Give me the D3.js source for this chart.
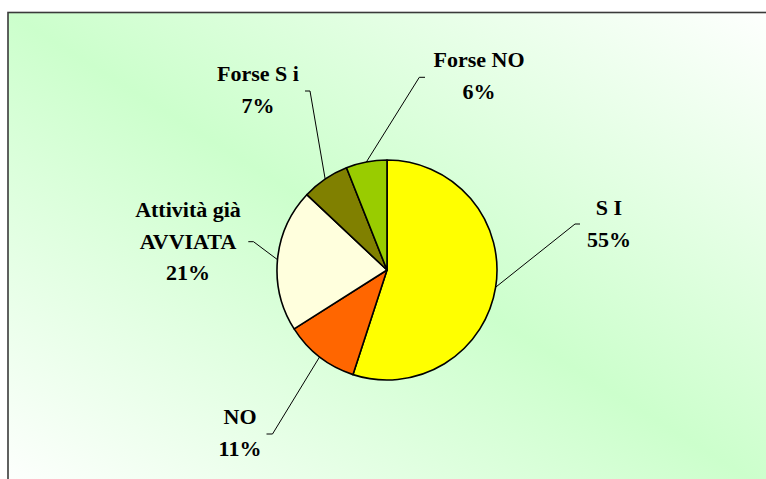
<!DOCTYPE html>
<html><head><meta charset="utf-8">
<script src="https://cdn.jsdelivr.net/npm/d3@7"></script>
<style>html,body{margin:0;padding:0;background:#fff;overflow:hidden}
.lbl{font-family:"Liberation Serif","Times New Roman",Tinos,"DejaVu Serif",serif;font-weight:bold;font-size:22px}</style>
</head><body>
<svg id="chart" width="766" height="479"></svg>
<script>
const categories = ["SI", "NO", "Attività già AVVIATA", "Forse Si", "Forse NO"];
const values = [55, 11, 21, 7, 6];
const labelLines = [["S I"], ["NO"], ["Attività già", "AVVIATA"], ["Forse S i"], ["Forse NO"]];
const colors = ["#FFFF00", "#FF6600", "#FFFFDD", "#808000", "#99CC00"];

// layout (label anchor: centre x, first baseline y, leader elbow)
const layout = [
  {x: 609, y: 215, elbow: [575, 224], tick: [580, 224]},
  {x: 240, y: 424, elbow: [272.5, 434], tick: [266.5, 434]},
  {x: 188, y: 217, elbow: [253.5, 241.7], tick: [248.3, 241.7]},
  {x: 258, y: 81, elbow: [310, 91], tick: [305, 91]},
  {x: 479, y: 67, elbow: [419.3, 77.3], tick: [425, 77.3]}
];

const svg = d3.select("#chart");
const defs = svg.append("defs");
const grad = defs.append("linearGradient").attr("id", "bg")
  .attr("x1", 1).attr("y1", 0).attr("x2", 0).attr("y2", 1);
grad.append("stop").attr("offset", 0).attr("stop-color", "#FFFFFF");
grad.append("stop").attr("offset", 0.5).attr("stop-color", "#CCFFCC");
grad.append("stop").attr("offset", 1).attr("stop-color", "#FFFFFF");

svg.append("rect").attr("x", 8).attr("y", 12.5).attr("width", 780).attr("height", 490)
  .attr("fill", "url(#bg)").attr("stroke", "#3a3a3a").attr("stroke-width", 1.6);

const cx = 387, cy = 270, r = 110;
const g = svg.append("g").attr("transform", `translate(${cx},${cy})`);
const pie = d3.pie().sort(null).value(d => d)(values);
const arc = d3.arc().innerRadius(0).outerRadius(r);

g.selectAll("path.slice").data(pie).join("path")
  .attr("class", "slice")
  .attr("d", arc)
  .attr("fill", (d, i) => colors[i])
  .attr("stroke", "#000").attr("stroke-width", 1.6).attr("stroke-linejoin", "round");

// leader lines
pie.forEach((d, i) => {
  const a = (d.startAngle + d.endAngle) / 2;
  const px = cx + r * Math.sin(a), py = cy - r * Math.cos(a);
  const L = layout[i];
  svg.append("polyline")
    .attr("points", [[px, py], L.elbow, L.tick].map(p => p.join(",")).join(" "))
    .attr("fill", "none").attr("stroke", "#000").attr("stroke-width", 1);
});

// labels
const lh = 31.7;
pie.forEach((d, i) => {
  const L = layout[i];
  const t = svg.append("text").attr("class", "lbl")
    .attr("text-anchor", "middle").attr("fill", "#000");
  const lines = labelLines[i].concat([values[i] + "%"]);
  lines.forEach((s, k) => {
    t.append("tspan").attr("x", L.x).attr("y", L.y + k * lh).text(s);
  });
});
</script>
</body></html>
